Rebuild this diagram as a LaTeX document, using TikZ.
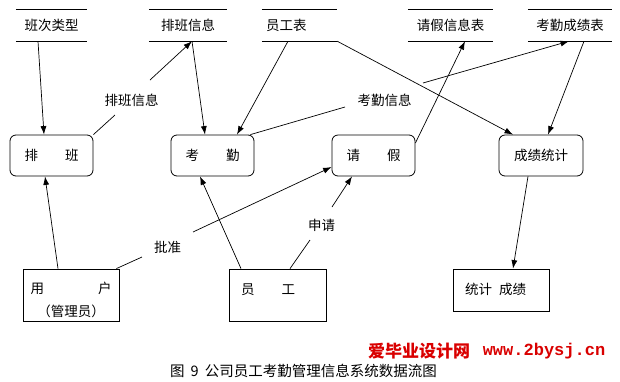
\documentclass[tikz,border=0pt]{standalone}
\usepackage{fontspec}
\setmainfont{Noto Sans CJK SC}
\newfontfamily\wmmono{Liberation Mono}
\usetikzlibrary{arrows.meta,calc}
\begin{document}
\begin{tikzpicture}[x=1pt,y=-1pt,
  every node/.style={font=\fontsize{13.5}{16}\selectfont, inner sep=0pt},
  store/.style={minimum height=31pt},
  proc/.style={draw, rounded corners=6pt, minimum width=83pt, minimum height=41pt, line width=0.8pt},
  ent/.style={draw, minimum width=96pt, line width=0.8pt},
  ln/.style={line width=0.7pt},
  arr/.style={line width=0.7pt, -{Latex[length=8.5pt,width=6pt]}}
]
\useasboundingbox (0,0) rectangle (620,381);
% data stores
\node[store, minimum width=71pt] (s1) at (51.5,25.5) {班次类型};
\node[store, minimum width=78pt] (s2) at (188,25.5) {排班信息};
\node[store, minimum width=75pt, text width=67pt, align=left] (s3) at (299.5,25.5) {员工表};
\node[store, minimum width=85pt] (s4) at (450.5,25.5) {请假信息表};
\node[store, minimum width=84pt] (s5) at (570,25.5) {考勤成绩表};
\foreach \s in {s1,s2,s3,s4,s5}{
  \draw[line width=0.8pt] (\s.north west) -- (\s.north east);
  \draw[line width=0.8pt] (\s.south west) -- (\s.south east);
}
% processes
\node[proc] (p1) at (51.5,155.5) {排　　班};
\node[proc] (p2) at (212.5,155.5) {考　　勤};
\node[proc] (p3) at (373.5,155.5) {请　　假};
\node[proc, minimum width=84pt] (p4) at (541,155.5) {成绩统计};
% entities
\node[ent, minimum height=52pt] (e1) at (71,295) {};
\node[align=center, font=\fontsize{13.5}{23}\selectfont] (e1t) at (71,299.5) {用　　　　户\\（管理员）};
\node[ent, minimum width=97pt, minimum height=52pt] (e2) at (277.5,295) {};
\node (e2t) at (268,290) {员　　工};
\node[ent, minimum height=42pt] (e3) at (501,290) {};
\node (e3t) at (495.5,289) {统计\hspace{7pt}成绩};
% labels
\node (l1) at (131.5,100) {排班信息};
\node (l2) at (384.5,100) {考勤信息};
\node (l3) at (167.5,247) {批准};
\node (l4) at (321.5,225) {申请};
\coordinate (pbA) at (115,115);
\coordinate (pbB) at (150,80);
\coordinate (kqA) at (345,107);
\coordinate (kqB) at (423,83);
\coordinate (pzA) at (142,257);
\coordinate (pzB) at (193,232);
\coordinate (sqA) at (310,240);
\coordinate (sqB) at (332,207);
% connectors
\draw[arr] ([xshift=-13.5pt]s1.south) -- ([xshift=-7.5pt]p1.north);
\draw[ln] (p1.north east) -- (pbA);
\draw[arr] (pbB) -- ([xshift=4pt]s2.south);
\draw[arr] ([xshift=4pt]s2.south) -- ([xshift=-7.5pt]p2.north);
\draw[arr] ([xshift=-11.5pt]s3.south) -- ([xshift=24.5pt]p2.north);
\draw[ln] ([xshift=-4pt]p2.north east) -- (kqA);
\draw[arr] (kqB) -- ([xshift=-1pt]s5.south);
\draw[arr] (s3.south east) -- ([xshift=-28pt]p4.north);
\draw[arr] ([yshift=12.5pt]p3.east) -- ([xshift=14.5pt]s4.south);
\draw[arr] ([xshift=14pt]s5.south) -- ([xshift=7pt]p4.north);
\draw[arr] ([xshift=-13pt]p4.south) -- ([xshift=12pt]e3.north);
\draw[arr] ([xshift=-13pt]e1.north) -- ([xshift=-6.5pt]p1.south);
\draw[ln] ([xshift=-3pt]e1.north east) -- (pzA);
\draw[arr] (pzB) -- ([yshift=-11.5pt]p3.west);
\draw[arr] ([xshift=-36.5pt]e2.north) -- ([xshift=-12.5pt]p2.south);
\draw[ln] ([xshift=12.5pt]e2.north) -- (sqA);
\draw[arr] (sqB) -- ([xshift=-21.5pt]p3.south);
% watermark and caption
\node[text=red!85!black, font=\fontsize{17}{20}\selectfont\bfseries] (wm1) at (419,351) {爱毕业设计网};
\node[text=red!85!black, font=\fontsize{17}{20}\selectfont\wmmono\bfseries] (wm2) at (544,351) {www.2bysj.cn};
\node[font=\fontsize{14.5}{17}\selectfont] (cap) at (303.5,371) {图\hspace{6pt}9\hspace{6pt}公司员工考勤管理信息系统数据流图};
\end{tikzpicture}
\end{document}
